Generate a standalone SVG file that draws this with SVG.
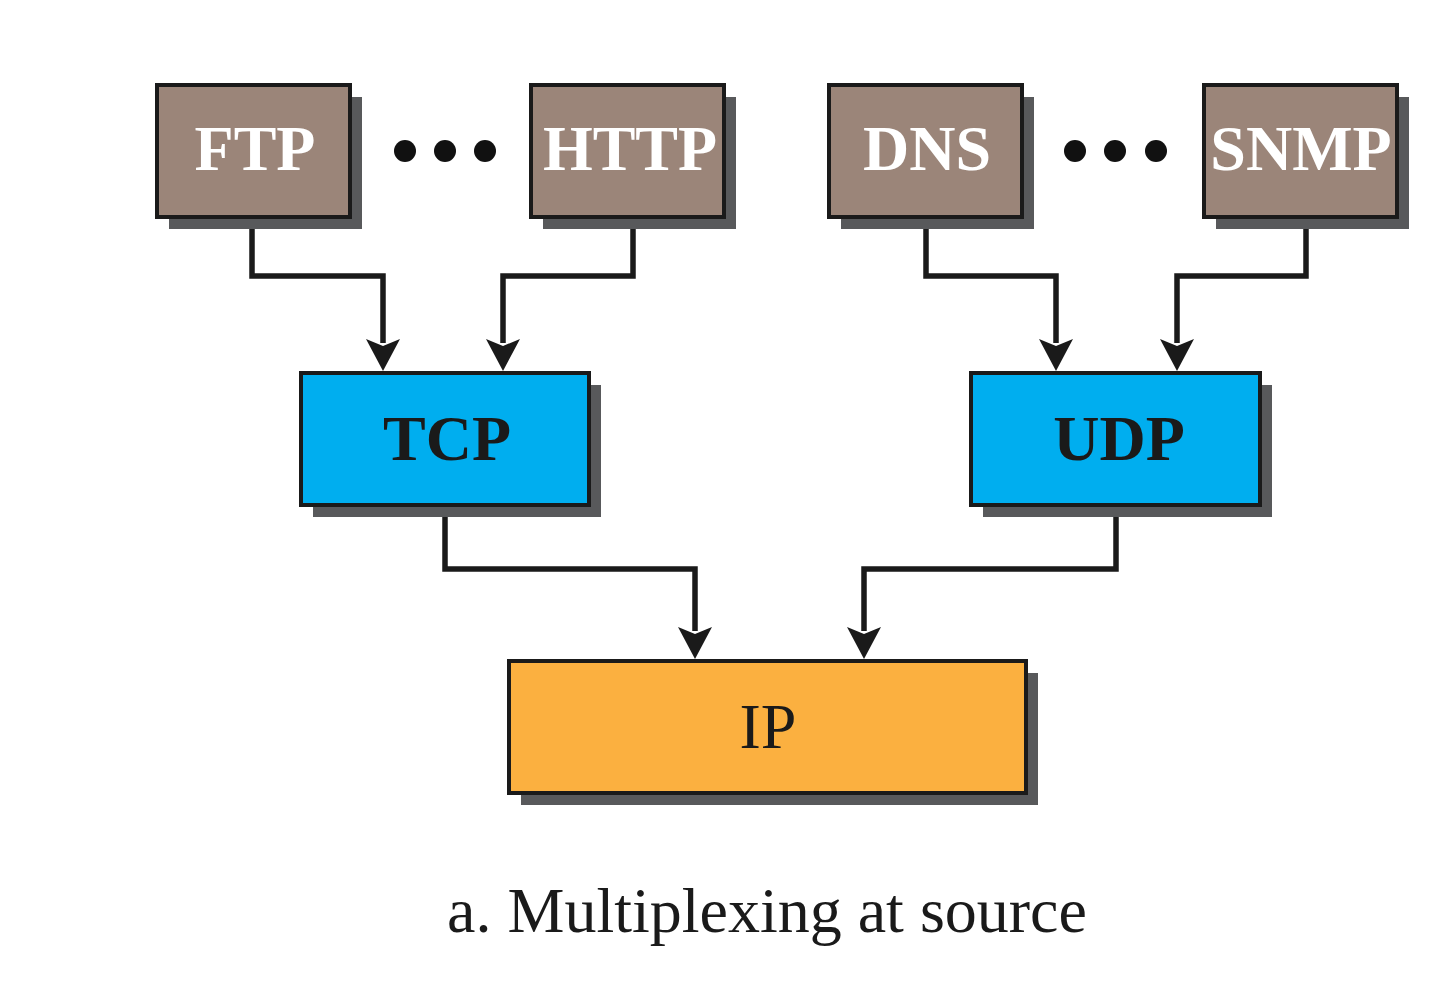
<svg xmlns="http://www.w3.org/2000/svg" width="1440" height="996" viewBox="0 0 1440 996">
<defs>
<style>
.shadow{fill:#58595b}
.box{stroke:#1a1a1a;stroke-width:4}
.app{fill:#9b8579}
.tr{fill:#00aeef}
.ip{fill:#fbb040}
.lbl{font-family:"Liberation Serif","Times New Roman",serif;font-size:64px;text-anchor:middle}
.w{fill:#ffffff;font-weight:bold}
.b{fill:#1a1a1a;font-weight:bold}
.r{fill:#1a1a1a}
.wire{fill:none;stroke:#1a1a1a;stroke-width:5.5;stroke-linejoin:miter}
.dot{fill:#111111}
.head{fill:#1a1a1a}
</style>
</defs>
<rect width="1440" height="996" fill="#ffffff"/>

<g id="connectors">
<path class="wire" d="M252 217 V276 H383 V343"/>
<path class="wire" d="M633 217 V276 H503 V343"/>
<path class="wire" d="M926 217 V276 H1056 V343"/>
<path class="wire" d="M1306 217 V276 H1177 V343"/>
<path class="wire" d="M445 505 V569 H695 V631"/>
<path class="wire" d="M1116 505 V569 H864 V631"/>
<path class="head" d="M383 371 L366 339 L383 346 L400 339 Z"/>
<path class="head" d="M503 371 L486 339 L503 346 L520 339 Z"/>
<path class="head" d="M1056 371 L1039 339 L1056 346 L1073 339 Z"/>
<path class="head" d="M1177 371 L1160 339 L1177 346 L1194 339 Z"/>
<path class="head" d="M695 659 L678 627 L695 634 L712 627 Z"/>
<path class="head" d="M864 659 L847 627 L864 634 L881 627 Z"/>
</g>

<g id="node-ftp">
<rect class="shadow" x="169" y="97" width="193" height="132"/>
<rect class="box app" x="157" y="85" width="193" height="132"/>
<text class="lbl w" x="255" y="170">FTP</text>
</g>
<g id="dots-left">
<circle class="dot" cx="405" cy="151" r="11"/>
<circle class="dot" cx="445" cy="151" r="11"/>
<circle class="dot" cx="485" cy="151" r="11"/>
</g>
<g id="node-http">
<rect class="shadow" x="543" y="97" width="193" height="132"/>
<rect class="box app" x="531" y="85" width="193" height="132"/>
<text class="lbl w" x="630" y="170">HTTP</text>
</g>
<g id="node-dns">
<rect class="shadow" x="841" y="97" width="193" height="132"/>
<rect class="box app" x="829" y="85" width="193" height="132"/>
<text class="lbl w" x="927" y="170">DNS</text>
</g>
<g id="dots-right">
<circle class="dot" cx="1075" cy="151" r="11"/>
<circle class="dot" cx="1115" cy="151" r="11"/>
<circle class="dot" cx="1156" cy="151" r="11"/>
</g>
<g id="node-snmp">
<rect class="shadow" x="1216" y="97" width="193" height="132"/>
<rect class="box app" x="1204" y="85" width="193" height="132"/>
<text class="lbl w" x="1301" y="170">SNMP</text>
</g>
<g id="node-tcp">
<rect class="shadow" x="313" y="385" width="288" height="132"/>
<rect class="box tr" x="301" y="373" width="288" height="132"/>
<text class="lbl b" x="447" y="460">TCP</text>
</g>
<g id="node-udp">
<rect class="shadow" x="983" y="385" width="289" height="132"/>
<rect class="box tr" x="971" y="373" width="289" height="132"/>
<text class="lbl b" x="1119" y="460">UDP</text>
</g>
<g id="node-ip">
<rect class="shadow" x="521" y="673" width="517" height="132"/>
<rect class="box ip" x="509" y="661" width="517" height="132"/>
<text class="lbl r" x="768" y="748">IP</text>
</g>
<g id="caption">
<text class="lbl r" x="767" y="932">a. Multiplexing at source</text>
</g>
</svg>
